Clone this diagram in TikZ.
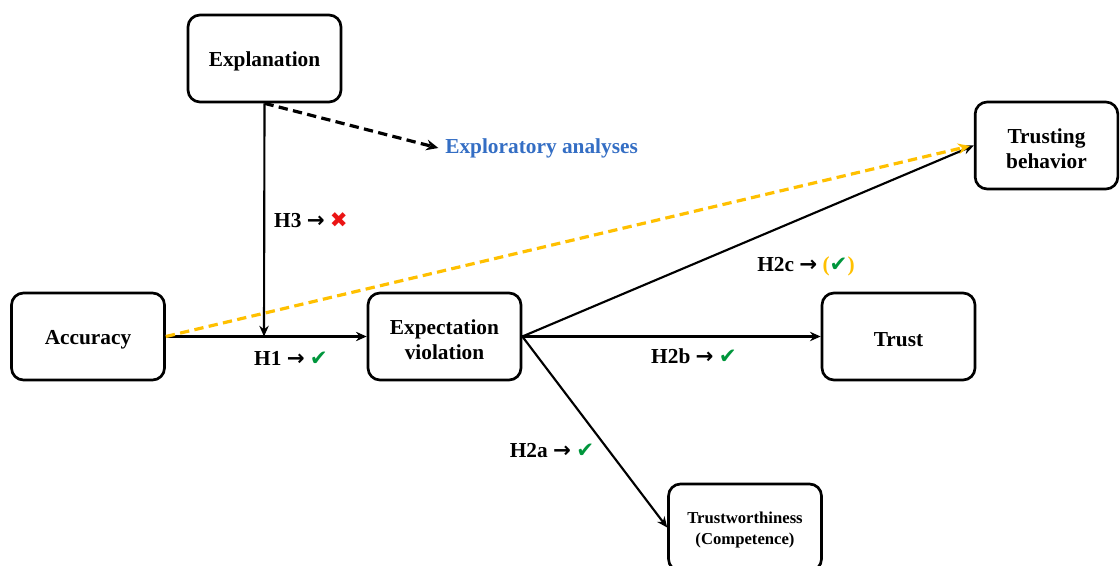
\documentclass[tikz,border=0pt]{standalone}
\usepackage{fontspec}
\setmainfont{Liberation Serif}
\newfontfamily\sym{DejaVu Sans}
\usetikzlibrary{arrows.meta}
\definecolor{okgreen}{RGB}{0,150,60}
\definecolor{nored}{RGB}{235,20,20}
\definecolor{ambr}{RGB}{255,192,0}
\definecolor{explblue}{RGB}{52,110,196}
\newcommand{\arr}{{\sym\bfseries →}}
\newcommand{\chk}{{\sym\mdseries\color{okgreen}✔}}
\newcommand{\crs}{{\sym\mdseries\color{nored}✖}}
\begin{document}
\begin{tikzpicture}[x=0.75pt,y=-0.75pt,
  box/.style={draw,line width=2pt,rounded corners=9pt,minimum width=114.75pt,minimum height=65.25pt,
    inner sep=0pt},
  boxtext/.style={label={[yshift=-2.5pt,align=center,inner sep=0pt,font=\fontsize{16}{19}\selectfont\bfseries]center:#1}},
  smalltext/.style={label={[yshift=-2pt,align=center,inner sep=0pt,font=\fontsize{12.5}{15.5}\selectfont\bfseries]center:#1}},
  conn/.style={line width=1.6pt,-{Stealth[length=8pt,width=7pt]}},
  lbl/.style={font=\fontsize{16}{19}\selectfont\bfseries,inner sep=0pt}]
\useasboundingbox (0,0) rectangle (1120,566);
\node[box,boxtext={Explanation}] (expl) at (264.5,58.5) {};
\node[box,boxtext={Accuracy}] (acc) at (88,336.5) {};
\node[box,boxtext={Expectation\\violation}] (ev) at (444.5,336.5) {};
\node[box,boxtext={Trust}] (trust) at (898.5,336.5) {};
\node[box,minimum width=107pt,boxtext={Trusting\\behavior}] (tb) at (1046.5,145.5) {};
\node[box,smalltext={Trustworthiness\\(Competence)}] (tw) at (745,527.5) {};
\node[lbl,anchor=west,text=explblue] (explo) at (445,148) {Exploratory analyses};
\coordinate (join) at (264,336.5);
\coordinate (ytip) at (970,146);
% connectors
\draw[conn] (expl.south) -- (join);
\draw[line width=2.4pt,dash pattern=on 7pt off 4pt,-{Stealth[length=9pt,width=8pt]}] (expl.south) -- ([xshift=-5]explo.west);
\draw[conn] (acc.east) -- (ev.west);
\draw[conn] (ev.east) -- (tb.west);
\draw[conn] (ev.east) -- (trust.west);
\draw[conn] (ev.east) -- (tw.west);
\draw[ambr,line width=2.4pt,dash pattern=on 7pt off 4pt,-{Stealth[length=9pt,width=8pt]}] (acc.east) -- (ytip);
% labels
\node[lbl] (lh3) at (311,220) {H3 \arr{} \crs};
\node[lbl] (lh1) at (291,358) {H1 \arr{} \chk};
\node[lbl] (lh2c) at (806,266) {H2c \arr{} {\color{ambr}(}\chk{\color{ambr})}};
\node[lbl] (lh2b) at (694,356) {H2b \arr{} \chk};
\node[lbl] (lh2a) at (552,451) {H2a \arr{} \chk};
\end{tikzpicture}
\end{document}
